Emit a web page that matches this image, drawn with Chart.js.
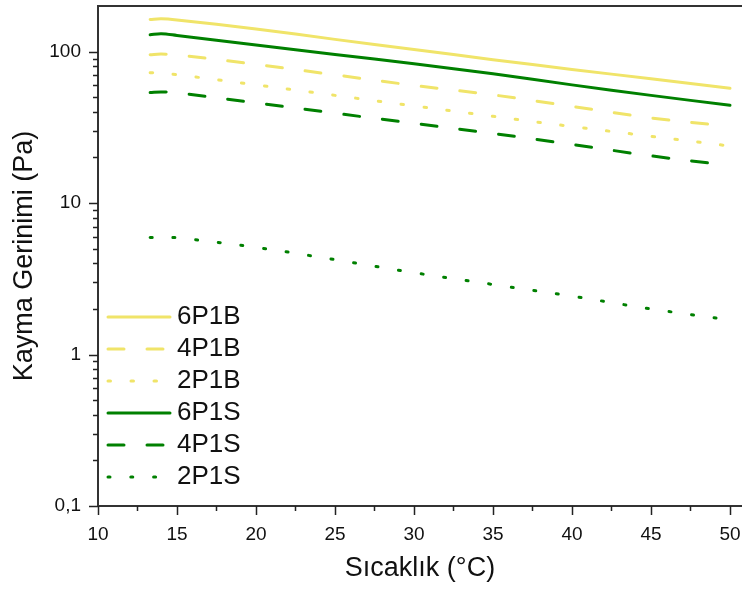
<!DOCTYPE html>
<html lang="tr">
<head>
<meta charset="utf-8">
<title>Kayma Gerinimi - Sıcaklık</title>
<script src="https://cdn.jsdelivr.net/npm/chart.js@4.4.1/dist/chart.umd.min.js"></script>
<style>
  html, body { margin: 0; padding: 0; background: #fff; }
  #grafico { display: block; }
</style>
</head>
<body>
<canvas id="grafico" width="742" height="591"></canvas>
<script>
// Valores (temperatura em °C, tensão em Pa)
const sicaklik = [13.3, 14, 15, 20, 25, 30, 35, 40, 45, 50];
const s6P1B = [163, 164.8, 161.9, 141.1, 120.4, 103.4, 88.4, 76.3, 66.1, 57.2];
const s4P1B = [95.4, 96.3, 95.1, 82.3, 70.2, 59.8, 51.8, 43.5, 36.5, 32.1];
const s2P1B = [72.6, 72.0, 70.4, 60.3, 51.4, 43.8, 37.4, 32.0, 27.6, 23.8];
const s6P1S = [129, 131.3, 127.9, 110.5, 95.8, 83.0, 71.3, 60.3, 51.4, 44.2];
const s4P1S = [53.6, 54.2, 53.4, 45.9, 39.2, 33.6, 28.8, 24.4, 20.5, 17.7];
const s2P1S = [5.92, 5.92, 5.90, 5.10, 4.23, 3.47, 2.90, 2.43, 2.00, 1.69];

// Rótulos dos eixos
const xTicks = [10, 15, 20, 25, 30, 35, 40, 45, 50];
const yTicks = [0.1, 1, 10, 100];
const yLabels = ['0,1', '1', '10', '100'];

// Cores
const sari = 'rgb(240, 228, 105)';
const yesil = 'rgb(0, 128, 0)';
const fonte = '"Liberation Sans", Arial, sans-serif';

function pontos(serie) {
  return sicaklik.map((t, i) => ({ x: t, y: serie[i] }));
}

function serie(label, dados, cor, traco) {
  return {
    label: label,
    data: pontos(dados),
    borderColor: cor,
    backgroundColor: cor,
    borderWidth: 3,
    borderDash: traco,
    borderCapStyle: 'round',
    pointRadius: 0,
    tension: 0.35,
    fill: false
  };
}

// Ticks menores, borda de cima e legenda dentro da área
const extras = {
  id: 'extras',
  afterDatasetsDraw(chart) {
    const ctx = chart.ctx;
    ctx.save();
    chart.data.datasets.forEach(function (ds, i) {
      const yy = 317 + i * 32;
      ctx.beginPath();
      ctx.strokeStyle = ds.borderColor;
      ctx.lineWidth = 3;
      ctx.lineCap = 'round';
      ctx.setLineDash(ds.borderDash || []);
      ctx.moveTo(108, yy);
      ctx.lineTo(170, yy);
      ctx.stroke();
      ctx.setLineDash([]);
      ctx.fillStyle = '#111';
      ctx.font = '26px ' + fonte;
      ctx.textBaseline = 'middle';
      ctx.textAlign = 'left';
      ctx.fillText(ds.label, 177, yy);
    });
    ctx.restore();
  },
  afterDraw(chart) {
    const ctx = chart.ctx;
    const area = chart.chartArea;
    const sx = chart.scales.x;
    const sy = chart.scales.y;
    ctx.save();
    ctx.strokeStyle = '#333';
    ctx.lineWidth = 2;
    // linha superior
    ctx.beginPath();
    ctx.moveTo(area.left - 1, area.top);
    ctx.lineTo(area.right, area.top);
    ctx.stroke();

    ctx.lineWidth = 1.5;
    ctx.strokeStyle = '#222';
    ctx.beginPath();
    // eixo x: maiores e menores
    xTicks.forEach(function (v, i) {
      const px = Math.round(sx.getPixelForValue(v)) + 0.5;
      ctx.moveTo(px, area.bottom);
      ctx.lineTo(px, area.bottom + 9);
      if (i < xTicks.length - 1) {
        const mx = Math.round(sx.getPixelForValue((v + xTicks[i + 1]) / 2)) + 0.5;
        ctx.moveTo(mx, area.bottom);
        ctx.lineTo(mx, area.bottom + 5);
      }
    });
    // eixo y log: maiores e menores
    yTicks.forEach(function (v, i) {
      const py = Math.round(sy.getPixelForValue(v)) + 0.5;
      ctx.moveTo(area.left, py);
      ctx.lineTo(area.left - 9, py);
      if (i < yTicks.length - 1) {
        for (let k = 2; k <= 9; k++) {
          const my = Math.round(sy.getPixelForValue(v * k)) + 0.5;
          ctx.moveTo(area.left, my);
          ctx.lineTo(area.left - 5, my);
        }
      }
    });
    ctx.stroke();
    ctx.restore();
  }
};

const ctx = document.getElementById('grafico').getContext('2d');

new Chart(ctx, {
  type: 'line',
  data: {
    datasets: [
      serie('6P1B', s6P1B, sari, []),
      serie('4P1B', s4P1B, sari, [16, 23]),
      serie('2P1B', s2P1B, sari, [2.5, 20.5]),
      serie('6P1S', s6P1S, yesil, []),
      serie('4P1S', s4P1S, yesil, [16, 23]),
      serie('2P1S', s2P1S, yesil, [2, 20.8])
    ]
  },
  options: {
    responsive: false,
    devicePixelRatio: 1,
    animation: false,
    layout: { padding: { top: 6, right: 0, left: 0, bottom: 0 } },
    plugins: {
      legend: { display: false },
      tooltip: { enabled: false }
    },
    scales: {
      x: {
        type: 'linear',
        min: 10,
        max: 50.76,
        afterBuildTicks: function (scale) {
          scale.ticks = xTicks.map(v => ({ value: v }));
        },
        afterFit: function (scale) {
          scale.height = 85;
          scale.paddingLeft = 0;
          scale.paddingRight = 0;
        },
        ticks: {
          color: '#111',
          font: { family: fonte, size: 19 },
          padding: 8,
          maxRotation: 0,
          autoSkip: false
        },
        grid: { display: false, drawTicks: true, tickLength: 9 },
        border: { display: true, color: '#333', width: 2 },
        title: {
          display: true,
          text: 'Sıcaklık (°C)',
          color: '#111',
          font: { family: fonte, size: 27 },
          padding: { top: 0, bottom: 6 }
        }
      },
      y: {
        type: 'logarithmic',
        min: 0.1,
        max: 200,
        afterBuildTicks: function (scale) {
          scale.ticks = yTicks.map(v => ({ value: v }));
        },
        afterFit: function (scale) {
          scale.width = 98;
          scale.paddingTop = 0;
          scale.paddingBottom = 0;
        },
        ticks: {
          color: '#111',
          font: { family: fonte, size: 19 },
          padding: 8,
          autoSkip: false,
          callback: function (value) {
            const i = yTicks.indexOf(value);
            return i >= 0 ? yLabels[i] : '';
          }
        },
        grid: { display: false, drawTicks: true, tickLength: 9 },
        border: { display: true, color: '#333', width: 2 },
        title: {
          display: true,
          text: 'Kayma Gerinimi (Pa)',
          color: '#111',
          font: { family: fonte, size: 27 },
          padding: { top: 8, bottom: 0 }
        }
      }
    }
  },
  plugins: [extras]
});
</script>
</body>
</html>
